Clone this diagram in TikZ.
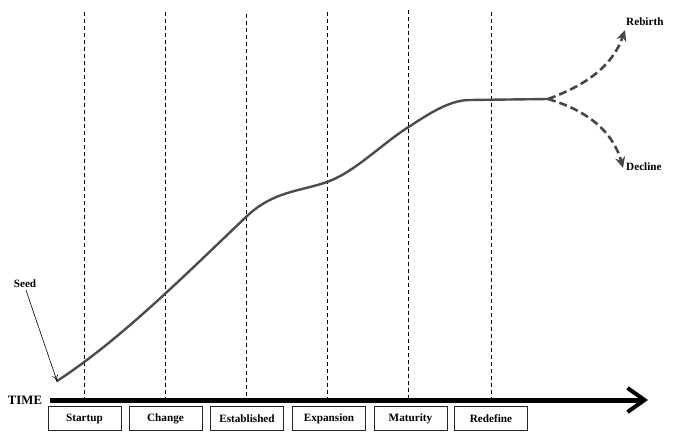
\documentclass[tikz,border=0pt]{standalone}
\usepackage{fontspec}
\setmainfont{Liberation Serif}
\usetikzlibrary{arrows.meta}

\tikzset{
  phase/.style={draw=black!85,line width=0.8pt,minimum width=73pt,minimum height=24pt,
    inner sep=0pt,font=\bfseries\fontsize{11.2}{13}\selectfont},
  tag/.style={inner sep=1pt,font=\bfseries\fontsize{11.2}{13}\selectfont},
  divider/.style={line width=0.8pt,dash pattern=on 4pt off 3pt},
  life/.style={line width=2.4pt,draw=black!70,line cap=round},
  future/.style={line width=2.6pt,draw=black!72,dash pattern=on 8pt off 4pt,
    -{Stealth[length=11pt,width=10pt]}}
}

\begin{document}
\begin{tikzpicture}[x=1pt,y=-1pt]
    \useasboundingbox (0,0) rectangle (679,444);
    % phases
    \node[phase] (startup) at (84.5,418.5) {Startup};
    \node[phase] (change) at (165.5,418.5) {Change};
    \node[phase] (established) at (247,418.5) {Established};
    \node[phase] (expansion) at (329,418.5) {Expansion};
    \node[phase] (maturity) at (410.5,418.5) {Maturity};
    \node[phase] (redefine) at (491,418.5) {Redefine};
    % dividers
    \coordinate (d1) at (84,12);   \coordinate (e1) at (84,398);
    \coordinate (d2) at (165,12);  \coordinate (e2) at (165,398);
    \coordinate (d3) at (246,14);  \coordinate (e3) at (246,398);
    \coordinate (d4) at (327,12);  \coordinate (e4) at (327,398);
    \coordinate (d5) at (408,10);  \coordinate (e5) at (408,398);
    \coordinate (d6) at (491,12);  \coordinate (e6) at (491,398);
    \draw[divider] (d1)--(e1);
    \draw[divider] (d2)--(e2);
    \draw[divider] (d3)--(e3);
    \draw[divider] (d4)--(e4);
    \draw[divider] (d5)--(e5);
    \draw[divider] (d6)--(e6);
    % time axis
    \node[tag,font=\bfseries\fontsize{12.8}{14}\selectfont] (time) at (25,400) {TIME};
    \coordinate (t0) at (50,400);
    \coordinate (t1) at (648,400);
    \draw[line width=5pt,-{Straight Barb[length=17pt,width=24pt,line width=4pt]}] (t0)--(t1);
    % life curve
    \coordinate (origin) at (57,381);
    \coordinate (fork) at (548,99);
    \draw[life] (origin) .. controls (120,340) and (183,277) .. (246,217)
      .. controls (273,191) and (300,191.5) .. (327,182)
      .. controls (354,172.5) and (380,145.5) .. (407,128)
      .. controls (428,114.4) and (449,100) .. (470,100) -- (fork);
    % seed
    \node[tag] (seed) at (25,284) {Seed};
    \draw[-{To[length=6pt,width=6pt]},line width=0.6pt] (seed.south) ++(1,1) -- (origin);
    % outcomes
    \node[tag,anchor=west] (rebirth) at (625,22) {Rebirth};
    \node[tag,anchor=west] (decline) at (625,167) {Decline};
    \draw[future] (fork) .. controls (592,83) and (614,62) .. (625,30);
    \draw[future] (fork) .. controls (592,112) and (614,135) .. (623,168);
\end{tikzpicture}
\end{document}
